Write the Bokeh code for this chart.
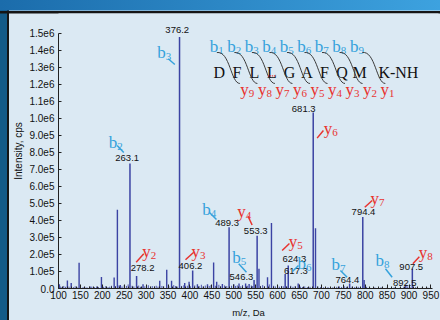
from bokeh.plotting import figure
from bokeh.embed import file_html
from bokeh.resources import INLINE
from bokeh.core.properties import value
from bokeh.models import FixedTicker, Range1d

# ---------------- data ----------------
labeled_mz = [263.1, 278.2, 376.2, 406.2, 489.3, 546.3, 553.3, 617.3, 624.3,
              681.3, 764.4, 794.4, 892.5, 907.5]
labeled_intensity = [7.35e5, 7.3e4, 1.48e6, 1.06e5, 3.6e5, 5.0e4, 3.1e5, 8.5e4,
                     1.35e5, 1.035e6, 3.0e4, 4.2e5, 2.2e4, 1.16e5]

other_mz = [102, 120.3, 129, 147, 172, 198, 227, 234.4, 241, 292.9, 331, 347, 358,
            388, 398, 417, 440, 454, 461, 474, 500, 512, 527, 535, 557.5, 577, 586,
            647, 686.5, 797.5]
other_intensity = [2.5e4, 4.7e4, 3.2e4, 1.52e5, 1.2e4, 6.7e4, 6.5e4, 4.63e5, 2.0e4,
                   2.5e4, 4.5e4, 1.1e5, 4.5e4, 3.2e4, 4.0e4, 2.5e4, 2.5e4, 1.53e5,
                   4.0e4, 2.6e4, 2.5e4, 3.0e4, 3.0e4, 2.7e4, 1.16e5, 6.6e4, 3.85e5,
                   3.0e4, 3.55e5, 5.0e4]

noise_mz = [104, 108, 112, 116, 124, 134, 138, 142, 156, 160, 165, 176, 182, 187, 191,
            203, 208, 213, 217, 221, 230, 238, 245, 250, 255, 259, 268, 272, 283, 287,
            297, 301, 305, 310, 314, 319, 323, 327, 336, 340, 352, 363, 367, 371, 381,
            386, 394, 401, 411, 421, 426, 430, 435, 444, 448, 458, 466, 470, 479, 484,
            495, 504, 508, 516, 520, 531, 540, 543, 561, 566, 570, 581, 591, 595, 600,
            604, 609, 613, 621, 630, 635, 640, 652, 657, 662, 668, 674, 692, 698, 705,
            715, 726, 735, 741, 746, 752, 757, 770, 776, 784, 789, 803, 810, 822, 836,
            850, 866, 880, 888, 897, 902, 915, 930, 943]
noise_intensity = [1.2e4, 0.9e4, 1.5e4, 1.0e4, 1.1e4, 0.8e4, 1.3e4, 0.9e4, 0.8e4, 1.0e4,
                   0.7e4, 1.1e4, 0.8e4, 1.2e4, 0.9e4, 1.0e4, 1.4e4, 0.8e4, 1.1e4, 1.6e4,
                   1.3e4, 1.8e4, 1.2e4, 2.0e4, 1.5e4, 2.4e4, 1.6e4, 1.2e4, 1.7e4, 1.0e4,
                   1.3e4, 1.1e4, 1.9e4, 1.0e4, 1.4e4, 1.2e4, 1.6e4, 1.1e4, 1.5e4, 1.2e4,
                   1.3e4, 2.0e4, 1.4e4, 1.1e4, 1.5e4, 1.9e4, 1.6e4, 1.3e4, 1.8e4, 1.4e4,
                   2.2e4, 1.2e4, 1.7e4, 1.5e4, 2.0e4, 1.6e4, 2.2e4, 1.3e4, 1.8e4, 1.4e4,
                   1.6e4, 1.5e4, 1.8e4, 1.3e4, 2.0e4, 1.6e4, 1.8e4, 1.4e4, 1.5e4, 2.0e4,
                   1.3e4, 2.4e4, 1.6e4, 1.2e4, 1.8e4, 1.1e4, 1.5e4, 1.3e4, 1.2e4, 1.6e4,
                   1.0e4, 1.4e4, 1.1e4, 0.9e4, 1.2e4, 0.8e4, 1.0e4, 1.2e4, 0.8e4, 0.7e4,
                   0.8e4, 0.7e4, 1.0e4, 1.2e4, 0.9e4, 1.3e4, 1.0e4, 1.1e4, 0.9e4, 1.0e4,
                   0.8e4, 1.0e4, 0.7e4, 0.6e4, 0.7e4, 0.6e4, 0.7e4, 0.6e4, 1.0e4, 1.2e4,
                   0.9e4, 0.8e4, 0.6e4, 0.5e4]

peptide = ["D", "F", "L", "L", "G", "A", "F", "Q", "M", "K-NH"]
b_numbers = ["1", "2", "3", "4", "5", "6", "7", "8", "9"]
y_numbers = ["9", "8", "7", "6", "5", "4", "3", "2", "1"]

ion_names = ["b2", "b3", "b4", "b5", "b6", "b7", "b8",
             "y2", "y3", "y4", "y5", "y6", "y7", "y8"]
ion_peaks = [263.1, 376.2, 489.3, 546.3, 617.3, 764.4, 892.5,
             278.2, 406.2, 553.3, 624.3, 681.3, 794.4, 907.5]

x_ticks = list(range(100, 951, 50))
x_minor_ticks = list(range(100, 951, 10))
y_ticks = [0, 100000, 200000, 300000, 400000, 500000, 600000, 700000, 800000,
           900000, 1000000, 1100000, 1200000, 1300000, 1400000, 1500000]
y_tick_labels = ["0.0", "1.0e5", "2.0e5", "3.0e5", "4.0e5", "5.0e5", "6.0e5", "7.0e5",
                 "8.0e5", "9.0e5", "1.0e6", "1.1e6", "1.2e6", "1.3e6", "1.4e6", "1.5e6"]

# ---------------- layout / style ----------------
W, H = 440, 320
ML, MR, MT, MB = 58, 2, 13, 32
X_START, X_END = 100, 967.2
Y_END = 1.6176e6
PX_X = (W - ML - MR) / (X_END - X_START)   # px per m/z unit
PX_Y = (H - MT - MB) / Y_END               # px per intensity unit

PANEL = "#dbe9f3"
PEAK_COLOR = "#3b43a3"
B_COLOR = "#35a2dc"
Y_COLOR = "#e8332f"
SANS_NAME = "Liberation Sans"
SANS = value(SANS_NAME)
SERIF = value("Liberation Serif")

# peak label offsets (px) relative to the peak top, text centre
label_offsets = {263.1: (-2.8, -6), 278.2: (6, -8.3), 376.2: (-2.3, -6.4),
                 406.2: (-2.2, -4), 489.3: (-2, -4), 546.3: (-12.6, -2.8),
                 553.3: (-1.4, -4.3), 617.3: (10.8, -3.5), 624.3: (6.2, -6.7),
                 681.3: (-9.5, -3.7), 764.4: (-2.2, -2.9), 794.4: (0.7, -4.9),
                 892.5: (-1, -1.6), 907.5: (-1.1, -1.6)}

# ion annotation: text (left, baseline) offset and leader line, px relative to peak top
ion_layout = {
    "b2": (-21.2, -21.5, -12.8, -18, -6.2, -11),
    "b3": (-22.3, 15.6, -11.3, 21.9, -4.7, 27.6),
    "b4": (-26.9, -17.8, -19.6, -14.8, -12.6, -7.8),
    "b5": (-21.9, -22.5, -15.3, -16.2, -7.6, -7.8),
    "b6": (12.3, -10.5, 7.3, -2.5, 13.3, -8.5),
    "b7": (-18.2, -18.9, -9.2, -12.9, -2.5, -6.2),
    "b8": (-30.3, -24.3, -20.3, -16, -13.6, -7.6),
    "y2": (5.6, -24.6, -0.4, -13.9, 7.2, -22.3),
    "y3": (-1.2, -19, -7.2, -10.7, 1.1, -18.3),
    "y4": (-20, -24.3, -9.2, -19.8, -5, -10.8),
    "y5": (0.5, -24, -6.1, -15, 1.2, -22),
    "y6": (10.5, 16, 3.9, 25.6, 10.2, 18),
    "y7": (7.7, -18.6, 2, -9.9, 9.4, -16.6),
    "y8": (6.5, -16.3, 0.5, -5, 7, -12),
}

# peptide header, in data units
SEQ_MZ0, SEQ_STEP = 467, 40
SEQ_BASE = 1.268e6
B_ROW = 1.426e6
Y_ROW = 1.171e6
ARC_TOP = 1.388e6
ARC_BOTTOM = 1.206e6

# ---------------- figure ----------------
p = figure(width=W, height=H, output_backend="svg", toolbar_location=None,
           x_range=Range1d(X_START, X_END), y_range=Range1d(0, Y_END),
           min_border_left=ML, min_border_right=MR, min_border_top=MT,
           min_border_bottom=MB)
p.background_fill_color = PANEL
p.border_fill_color = None
p.outline_line_color = None
p.xgrid.grid_line_color = None
p.ygrid.grid_line_color = None
# decorative blue frame around the light panel (drawn behind the transparent border area)
p.styles = {
    "background": (
        "linear-gradient(to right, #1b6cab, #3da2df) 0 0 / 100% 10.5px no-repeat, "
        "linear-gradient(#151515, #151515) 0 10.5px / 100% 2.5px no-repeat, "
        "linear-gradient(to right, #145b88 0px, #145b88 6.5px, #151515 6.5px, "
        f"#151515 9px, {PANEL} 9px)"
    )
}

# axes
xa = p.xaxis[0]
xa.ticker = FixedTicker(ticks=x_ticks, minor_ticks=x_minor_ticks)
xa.bounds = (100, 954)
xa.axis_label = "m/z, Da"
xa.axis_label_text_font = SANS_NAME
xa.axis_label_text_font_size = "9.5px"
xa.axis_label_text_font_style = "normal"
xa.axis_label_standoff = 5
xa.major_label_text_font = SANS_NAME
xa.major_label_text_font_size = "10px"
xa.major_label_standoff = 2
xa.major_tick_in, xa.major_tick_out = 4, 0
xa.minor_tick_in, xa.minor_tick_out = 2, 0

ya = p.yaxis[0]
ya.ticker = FixedTicker(ticks=y_ticks)
ya.major_label_overrides = dict(zip(y_ticks, y_tick_labels))
ya.bounds = (0, 1500000)
ya.axis_label = "Intensity, cps"
ya.axis_label_text_font = SANS_NAME
ya.axis_label_text_font_size = "10px"
ya.axis_label_text_font_style = "normal"
ya.axis_label_standoff = 2
ya.major_label_text_font = SANS_NAME
ya.major_label_text_font_size = "10px"
ya.major_label_standoff = 4
ya.major_tick_in, ya.major_tick_out = 3, 0
for ax in (xa, ya):
    ax.axis_line_color = "#222222"
    ax.major_tick_line_color = "#222222"
    ax.minor_tick_line_color = "#222222"
    ax.major_label_text_color = "#111111"
    ax.axis_label_text_color = "#111111"

# peaks
p.segment(x0=noise_mz, y0=0, x1=noise_mz, y1=noise_intensity,
          line_color=PEAK_COLOR, line_width=1.0, line_alpha=0.9)
p.segment(x0=other_mz, y0=0, x1=other_mz, y1=other_intensity,
          line_color=PEAK_COLOR, line_width=1.4)
p.segment(x0=labeled_mz, y0=0, x1=labeled_mz, y1=labeled_intensity,
          line_color=PEAK_COLOR, line_width=1.5)

# peak labels
p.text(x=labeled_mz, y=labeled_intensity, text=[f"{m:.1f}" for m in labeled_mz],
       x_offset=[label_offsets[m][0] for m in labeled_mz],
       y_offset=[label_offsets[m][1] for m in labeled_mz],
       text_align="center", text_baseline="middle", text_font=SANS,
       text_font_size="9.5px", text_color="#111111")

# ion annotations
intensity_of = dict(zip(labeled_mz, labeled_intensity))
for name, mz in zip(ion_names, ion_peaks):
    top = intensity_of[mz]
    dx, dy, a, b, c, d = ion_layout[name]
    color = B_COLOR if name[0] == "b" else Y_COLOR
    p.text(x=[mz], y=[top], text=[name[0]], x_offset=dx, y_offset=dy,
           text_align="left", text_baseline="alphabetic", text_font=SERIF,
           text_font_size="17px", text_color=color)
    p.text(x=[mz], y=[top], text=[name[1:]], x_offset=dx + 8.5, y_offset=dy + 4,
           text_align="left", text_baseline="alphabetic", text_font=SERIF,
           text_font_size="11px", text_color=color)
    p.segment(x0=[mz + a / PX_X], y0=[top - b / PX_Y], x1=[mz + c / PX_X],
              y1=[top - d / PX_Y], line_color=color, line_width=1.5)

# peptide header
centers = [SEQ_MZ0 + SEQ_STEP * k for k in range(len(peptide))]
p.text(x=centers[:-1], y=[SEQ_BASE] * (len(peptide) - 1), text=peptide[:-1],
       text_align="center", text_baseline="alphabetic", text_font=SERIF,
       text_font_size="16px", text_color="#111111")
p.text(x=[centers[-1] + 3], y=[SEQ_BASE], text=[peptide[-1]],
       text_align="left", text_baseline="alphabetic", text_font=SERIF,
       text_font_size="16px", text_color="#111111")

b_x = [centers[k] - 22 for k in range(9)]
p.text(x=b_x, y=[B_ROW] * 9, text=["b"] * 9, text_align="left",
       text_baseline="alphabetic", text_font=SERIF, text_font_size="17px",
       text_color=B_COLOR)
p.text(x=b_x, y=[B_ROW] * 9, text=b_numbers, x_offset=8.5, y_offset=4,
       text_align="left", text_baseline="alphabetic", text_font=SERIF,
       text_font_size="11px", text_color=B_COLOR)

y_x = [centers[k + 1] + 8 for k in range(9)]
p.text(x=y_x, y=[Y_ROW] * 9, text=["y"] * 9, text_align="left",
       text_baseline="alphabetic", text_font=SERIF, text_font_size="17px",
       text_color=Y_COLOR)
p.text(x=y_x, y=[Y_ROW] * 9, text=y_numbers, x_offset=8.5, y_offset=4,
       text_align="left", text_baseline="alphabetic", text_font=SERIF,
       text_font_size="11px", text_color=Y_COLOR)

anchors = [centers[k] for k in range(1, 9)] + [centers[9] + 12]
p.bezier(x0=[c - 20 / PX_X for c in anchors], y0=[ARC_TOP] * 9,
         x1=[c + 3 / PX_X for c in anchors], y1=[ARC_BOTTOM] * 9,
         cx0=[c - 7 / PX_X for c in anchors], cy0=[ARC_TOP + 2 / PX_Y] * 9,
         cx1=[c - 6 / PX_X for c in anchors], cy1=[ARC_BOTTOM] * 9,
         line_color="#3a3a3a", line_width=1.0)

# red squiggle under the second L
p.line(x=[centers[3] - 4 / PX_X, centers[3] + 4 / PX_X],
       y=[SEQ_BASE - 3 / PX_Y] * 2, line_color=Y_COLOR, line_width=1.2,
       line_dash="1 1")

open("out.html", "w").write(file_html(p, INLINE))
